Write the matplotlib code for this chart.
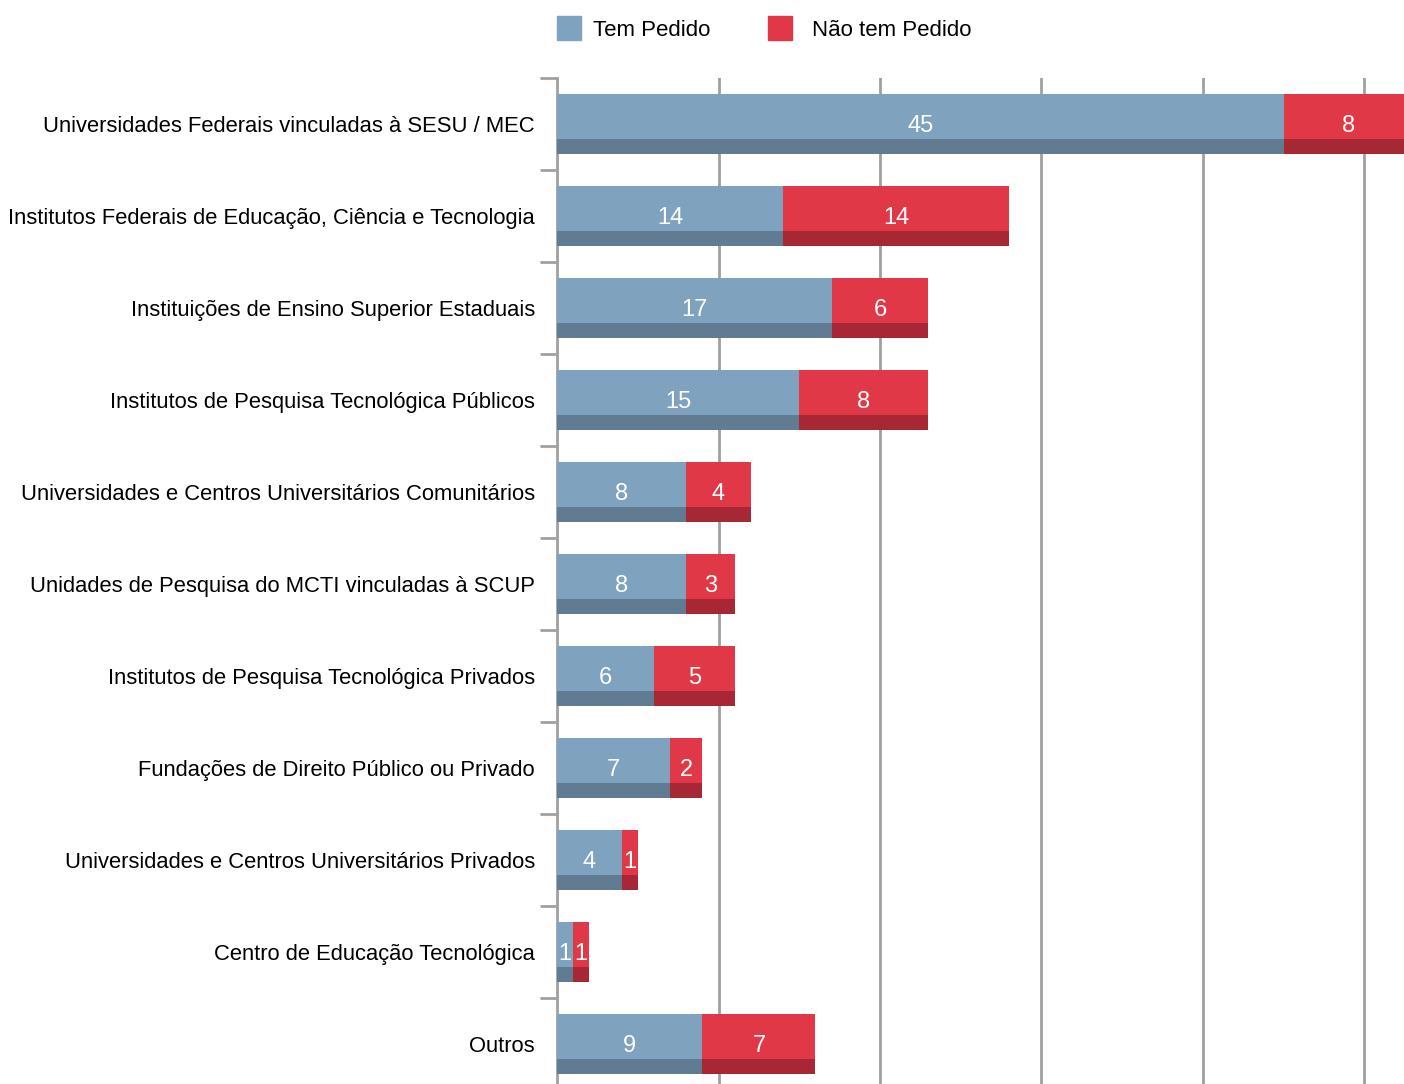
import matplotlib
matplotlib.use('Agg')
import matplotlib.pyplot as plt
from matplotlib.patches import Rectangle
import numpy as np

plt.rcParams['font.family'] = ['Liberation Sans', 'DejaVu Sans']

categories = [
    'Universidades Federais vinculadas à SESU / MEC',
    'Institutos Federais de Educação, Ciência e Tecnologia',
    'Instituições de Ensino Superior Estaduais',
    'Institutos de Pesquisa Tecnológica Públicos',
    'Universidades e Centros Universitários Comunitários',
    'Unidades de Pesquisa do MCTI vinculadas à SCUP',
    'Institutos de Pesquisa Tecnológica Privados',
    'Fundações de Direito Público ou Privado',
    'Universidades e Centros Universitários Privados',
    'Centro de Educação Tecnológica',
    'Outros',
]
tem_pedido = [45, 14, 17, 15, 8, 8, 6, 7, 4, 1, 9]
nao_tem_pedido = [8, 14, 6, 8, 4, 3, 5, 2, 1, 1, 7]
series_names = ['Tem Pedido', 'Não tem Pedido']

blue, blue_dark = '#7fa2bf', '#617b92'
red, red_dark = '#e03847', '#a82735'
grid_gray = '#a0a0a0'

W, H = 1404, 1084
fig = plt.figure(figsize=(W / 100, H / 100), dpi=100)

# axes: left spine at x=557, top at y=78, 92 px per row, 16.15 px per unit
px_unit = 16.15
row_px = 92
n = len(categories)
ax_left, ax_top = 557, 78
xmax = 60
ax_w = xmax * px_unit
ax_h = n * row_px
ax = fig.add_axes([ax_left / W, 1 - (ax_top + ax_h) / H, ax_w / W, ax_h / H])

y = np.arange(n)
bar_h = 60 / row_px
strip_h = 15 / row_px

ax.barh(y, tem_pedido, height=bar_h, color=blue, zorder=3)
ax.barh(y, nao_tem_pedido, left=tem_pedido, height=bar_h, color=red, zorder=3)
# darker strip at the bottom of each bar
ax.barh(y + bar_h / 2 - strip_h / 2, tem_pedido, height=strip_h, color=blue_dark, zorder=4)
ax.barh(y + bar_h / 2 - strip_h / 2, nao_tem_pedido, left=tem_pedido, height=strip_h,
        color=red_dark, zorder=4)

for i in range(n):
    a, b = tem_pedido[i], nao_tem_pedido[i]
    ax.text(a / 2, i + 0.02, str(a), color='white', fontsize=17, ha='center', va='center', zorder=5)
    ax.text(a + b / 2, i + 0.02, str(b), color='white', fontsize=17, ha='center', va='center', zorder=5)

ax.set_xlim(0, xmax)
ax.set_ylim(n - 0.5, -0.5)
ax.set_xticks(np.arange(10, xmax + 1, 10))
ax.xaxis.grid(True, color=grid_gray, linewidth=2, zorder=0)
ax.tick_params(axis='x', length=0, labelbottom=False)

ax.set_yticks(np.arange(-0.5, n, 1))
ax.set_yticklabels([])
ax.set_yticks(y, minor=True)
ax.set_yticklabels(categories, minor=True, fontsize=15.8)
ax.tick_params(axis='y', which='major', length=12, width=2, color=grid_gray)
ax.tick_params(axis='y', which='minor', length=0, pad=16)

for s in ['top', 'right', 'bottom']:
    ax.spines[s].set_visible(False)
ax.spines['left'].set_color(grid_gray)
ax.spines['left'].set_linewidth(2)

# legend drawn by hand at the top
legend_items = [(557, blue, series_names[0], 593), (768, red, series_names[1], 812)]
for x0, col, name, tx in legend_items:
    fig.add_artist(Rectangle((x0 / W, 1 - 40 / H), 24 / W, 24 / H, color=col,
                             transform=fig.transFigure))
    fig.text(tx / W, 1 - 30 / H, name, fontsize=16, va='center', ha='left')

fig.savefig('out.png', dpi=100)
